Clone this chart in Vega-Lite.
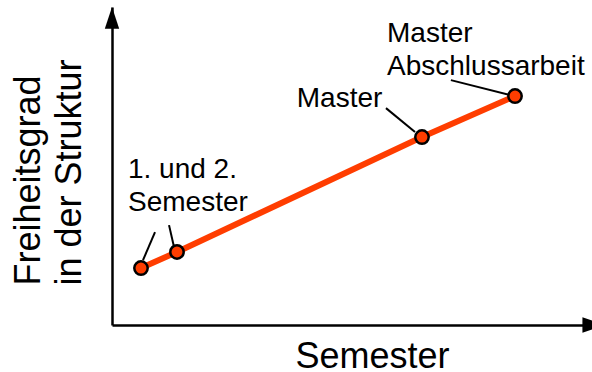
{
  "$schema": "https://vega.github.io/schema/vega-lite/v6.json",
  "width": 480,
  "height": 318,
  "autosize": {"type": "none"},
  "padding": {"left": 112, "top": 7, "right": 0, "bottom": 47},
  "background": "white",
  "config": {"view": {"stroke": null}, "font": "Liberation Sans"},
  "datasets": {
    "points": [
      {"x": 6.04, "y": 17.9},
      {"x": 13.54, "y": 22.96},
      {"x": 64.58, "y": 59.1},
      {"x": 83.96, "y": 72.0}
    ],
    "leaders": [
      {"x": 8.96, "y": 29.2, "x2": 6.46, "y2": 20.4},
      {"x": 11.88, "y": 31.4, "x2": 12.92, "y2": 24.5},
      {"x": 57.08, "y": 68.2, "x2": 63.13, "y2": 60.7},
      {"x": 70.6, "y": 77.0, "x2": 82.9, "y2": 72.3}
    ],
    "labels": [
      {"x": 3.33, "y": 46.2, "label": "1. und 2.\nSemester"},
      {"x": 38.5, "y": 68.6, "label": "Master"},
      {"x": 57.3, "y": 89.0, "label": "Master\nAbschlussarbeit"}
    ]
  },
  "encoding": {
    "x": {
      "field": "x", "type": "quantitative",
      "scale": {"domain": [0, 100], "nice": false, "zero": false},
      "axis": {
        "domain": true, "domainColor": "black", "domainWidth": 2.5,
        "ticks": false, "labels": false, "grid": false,
        "title": "Semester", "titleFont": "Liberation Sans", "titleFontSize": 36,
        "titleFontWeight": "normal", "titleColor": "black",
        "titleAlign": "left", "titleBaseline": "alphabetic",
        "titleX": 183, "titleY": 42
      }
    },
    "y": {
      "field": "y", "type": "quantitative",
      "scale": {"domain": [0, 100], "nice": false, "zero": false},
      "axis": {
        "domain": true, "domainColor": "black", "domainWidth": 2.5,
        "ticks": false, "labels": false, "grid": false,
        "title": ["Freiheitsgrad", "in der Struktur"],
        "titleFont": "Liberation Sans", "titleFontSize": 36,
        "titleFontWeight": "normal", "titleColor": "black",
        "titleAngle": -90, "titleAlign": "left", "titleBaseline": "alphabetic",
        "titleLineHeight": 41, "titleX": -73, "titleY": 278
      }
    }
  },
  "layer": [
    {
      "data": {"name": "leaders"},
      "mark": {"type": "rule", "color": "black", "strokeWidth": 2},
      "encoding": {"x2": {"field": "x2"}, "y2": {"field": "y2"}}
    },
    {
      "data": {"name": "points"},
      "mark": {"type": "line", "color": "#FF3D00", "strokeWidth": 6}
    },
    {
      "data": {"name": "points"},
      "mark": {"type": "point", "filled": true, "fill": "#FF3D00", "stroke": "black", "strokeWidth": 2.5, "size": 180, "opacity": 1}
    },
    {
      "data": {"name": "labels"},
      "mark": {"type": "text", "align": "left", "baseline": "alphabetic", "fontSize": 28, "font": "Liberation Sans", "color": "black", "lineBreak": "\n", "lineHeight": 33},
      "encoding": {"text": {"field": "label"}}
    },
    {
      "data": {"values": [{"x": 0, "y": 100}]},
      "mark": {"type": "point", "filled": true, "color": "black", "opacity": 1, "size": 1900, "shape": "M0,0L0.33,1L-0.33,1Z"}
    },
    {
      "data": {"values": [{"x": 100, "y": 0}]},
      "mark": {"type": "point", "filled": true, "color": "black", "opacity": 1, "size": 1900, "shape": "M0.56,0L-0.44,0.36L-0.44,-0.36Z"}
    }
  ]
}
